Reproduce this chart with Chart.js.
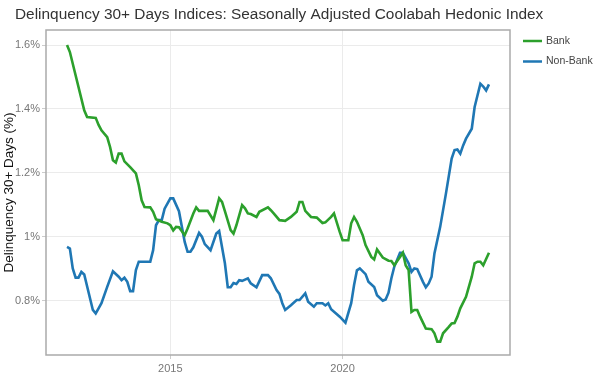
<!DOCTYPE html>
<html><head><meta charset="utf-8">
<script src="https://cdn.jsdelivr.net/npm/chart.js@4/dist/chart.umd.min.js"></script>
<style>html,body{margin:0;padding:0;background:#fff;}#wrap{width:602px;height:390px;}</style>
</head><body><div id="wrap"><canvas id="c" width="602" height="390"></canvas></div>
<script>
const chartTitle = "Delinquency 30+ Days Indices: Seasonally Adjusted Coolabah Hedonic Index";
const yAxisTitle = "Delinquency 30+ Days (%)";
const seriesNames = ["Bank", "Non-Bank"];
const seriesColors = ["#2ca02c", "#1f77b4"];

const bankMonths = ["2012-01","2012-02","2012-07","2012-08","2012-11","2012-12","2013-01","2013-03","2013-04","2013-05","2013-06","2013-07","2013-08","2013-09","2013-11","2014-01","2014-02","2014-03","2014-04","2014-06","2014-07","2014-08","2014-10","2014-12","2015-01","2015-02","2015-03","2015-04","2015-06","2015-07","2015-09","2015-10","2015-11","2016-02","2016-04","2016-06","2016-07","2016-08","2016-10","2016-11","2016-12","2017-02","2017-03","2017-04","2017-05","2017-07","2017-08","2017-11","2017-12","2018-01","2018-03","2018-05","2018-07","2018-09","2018-10","2018-11","2018-12","2019-02","2019-04","2019-06","2019-07","2019-09","2019-10","2019-12","2020-01","2020-03","2020-04","2020-05","2020-06","2020-08","2020-09","2020-11","2020-12","2021-01","2021-03","2021-05","2021-06","2021-07","2021-09","2021-10","2021-11","2021-12","2022-01","2022-02","2022-03","2022-04","2022-06","2022-08","2022-09","2022-10","2022-11","2022-12","2023-02","2023-03","2023-04","2023-05","2023-06","2023-08","2023-10","2023-11","2023-12","2024-01","2024-02","2024-04"];
const bankValues = [1.600,1.578,1.396,1.375,1.372,1.350,1.333,1.312,1.281,1.239,1.232,1.260,1.260,1.236,1.218,1.198,1.161,1.114,1.093,1.092,1.078,1.055,1.047,1.042,1.036,1.020,1.031,1.030,1.005,1.026,1.073,1.092,1.081,1.081,1.052,1.120,1.109,1.080,1.021,1.010,1.036,1.099,1.089,1.073,1.071,1.062,1.078,1.092,1.083,1.073,1.052,1.050,1.062,1.078,1.109,1.109,1.081,1.062,1.060,1.043,1.045,1.062,1.073,1.015,0.989,0.989,1.042,1.062,1.047,1.005,0.974,0.937,0.929,0.960,0.935,0.925,0.924,0.911,0.937,0.950,0.910,0.896,0.765,0.771,0.771,0.750,0.713,0.711,0.698,0.672,0.672,0.698,0.718,0.729,0.730,0.750,0.776,0.812,0.875,0.917,0.922,0.922,0.911,0.950];

const nonBankMonths = ["2012-01","2012-02","2012-03","2012-04","2012-05","2012-06","2012-07","2012-10","2012-11","2012-12","2013-01","2013-03","2013-05","2013-07","2013-08","2013-09","2013-10","2013-11","2013-12","2014-01","2014-02","2014-06","2014-07","2014-08","2014-09","2014-10","2014-11","2015-01","2015-02","2015-04","2015-06","2015-07","2015-08","2015-09","2015-11","2015-12","2016-01","2016-03","2016-05","2016-06","2016-08","2016-09","2016-10","2016-11","2016-12","2017-01","2017-02","2017-04","2017-05","2017-07","2017-09","2017-11","2017-12","2018-02","2018-03","2018-04","2018-05","2018-07","2018-09","2018-10","2018-12","2019-01","2019-03","2019-04","2019-06","2019-07","2019-08","2019-09","2019-12","2020-02","2020-04","2020-05","2020-06","2020-07","2020-09","2020-10","2020-12","2021-01","2021-03","2021-04","2021-05","2021-06","2021-07","2021-09","2021-10","2021-12","2022-01","2022-02","2022-03","2022-05","2022-06","2022-07","2022-08","2022-09","2022-11","2023-01","2023-03","2023-04","2023-05","2023-06","2023-07","2023-08","2023-10","2023-11","2024-01","2024-02","2024-03","2024-04"];
const nonBankValues = [0.968,0.963,0.901,0.872,0.872,0.890,0.882,0.771,0.760,0.776,0.792,0.843,0.892,0.875,0.864,0.872,0.859,0.830,0.830,0.896,0.922,0.922,0.958,1.036,1.052,1.052,1.088,1.120,1.120,1.080,0.984,0.953,0.953,0.967,1.012,1.000,0.977,0.958,1.010,1.018,0.917,0.842,0.842,0.855,0.852,0.864,0.862,0.870,0.854,0.842,0.880,0.880,0.870,0.833,0.821,0.792,0.771,0.786,0.802,0.802,0.823,0.797,0.781,0.792,0.792,0.785,0.792,0.773,0.750,0.731,0.792,0.849,0.895,0.901,0.883,0.859,0.843,0.817,0.800,0.804,0.825,0.870,0.906,0.950,0.950,0.917,0.890,0.901,0.899,0.859,0.842,0.854,0.875,0.948,1.031,1.135,1.245,1.271,1.273,1.260,1.286,1.307,1.338,1.406,1.479,1.470,1.458,1.477];

const xTickYears = [2015, 2020];
const yTickValues = [0.8, 1.0, 1.2, 1.4, 1.6];
const yTickLabels = ["0.8%", "1%", "1.2%", "1.4%", "1.6%"];

const toDec = s => { const p = s.split('-').map(Number); return p[0] + (p[1] - 1) / 12; };
const toPoints = (months, vals) => months.map((m, i) => ({ x: toDec(m), y: vals[i] }));

const FONT = '"Liberation Sans", Arial, sans-serif';

const overlay = {
  id: 'overlay',
  afterDraw(chart) {
    const { ctx, chartArea: a } = chart;
    ctx.save();
    ctx.strokeStyle = '#aaaaaa';
    ctx.lineWidth = 1.5;
    ctx.strokeRect(a.left, a.top, a.right - a.left, a.bottom - a.top);
    ctx.fillStyle = '#333';
    ctx.font = '15.4px ' + FONT;
    ctx.textBaseline = 'middle';
    ctx.textAlign = 'left';
    ctx.fillText(chartTitle, 15, 15);
    chart.data.datasets.forEach((ds, i) => {
      const y = 41 + i * 20.5;
      ctx.strokeStyle = ds.borderColor;
      ctx.lineWidth = 2.5;
      ctx.beginPath(); ctx.moveTo(523, y); ctx.lineTo(542, y); ctx.stroke();
      ctx.fillStyle = '#444';
      ctx.font = '10.5px ' + FONT;
      ctx.fillText(ds.label, 546, y);
    });
    ctx.restore();
  }
};

new Chart(document.getElementById('c'), {
  type: 'line',
  data: {
    datasets: [
      { label: seriesNames[0], data: toPoints(bankMonths, bankValues), borderColor: seriesColors[0], backgroundColor: seriesColors[0], borderWidth: 2.6, pointRadius: 0, fill: false, tension: 0 },
      { label: seriesNames[1], data: toPoints(nonBankMonths, nonBankValues), borderColor: seriesColors[1], backgroundColor: seriesColors[1], borderWidth: 2.6, pointRadius: 0, fill: false, tension: 0 }
    ]
  },
  options: {
    responsive: false,
    animation: false,
    devicePixelRatio: 1,
    events: [],
    layout: { padding: { top: 30, right: 92, left: 0, bottom: 0 } },
    plugins: { legend: { display: false }, title: { display: false }, tooltip: { enabled: false } },
    scales: {
      x: {
        type: 'linear', min: 2011.39, max: 2024.86,
        afterBuildTicks: s => { s.ticks = xTickYears.map(v => ({ value: v })); },
        afterFit: s => { s.height = 35; },
        ticks: { callback: v => String(v), color: '#777', font: { family: FONT, size: 11 }, maxRotation: 0, padding: 3 },
        grid: { color: '#ebebeb', tickColor: '#cccccc', tickLength: 4 },
        border: { display: false }
      },
      y: {
        type: 'linear', min: 0.630, max: 1.647,
        afterBuildTicks: s => { s.ticks = yTickValues.map(v => ({ value: v })); },
        afterFit: s => { s.width = 46; },
        ticks: {
          callback: v => { const i = yTickValues.findIndex(t => Math.abs(t - v) < 1e-6); return i >= 0 ? yTickLabels[i] : ''; },
          color: '#777', font: { family: FONT, size: 11 }, padding: 2
        },
        grid: { color: '#ebebeb', tickColor: '#cccccc', tickLength: 4 },
        border: { display: false },
        title: { display: true, text: yAxisTitle, color: '#111', font: { family: FONT, size: 13.5 }, padding: { top: 1, bottom: 0 } }
      }
    }
  },
  plugins: [overlay]
});
</script>
</body></html>
